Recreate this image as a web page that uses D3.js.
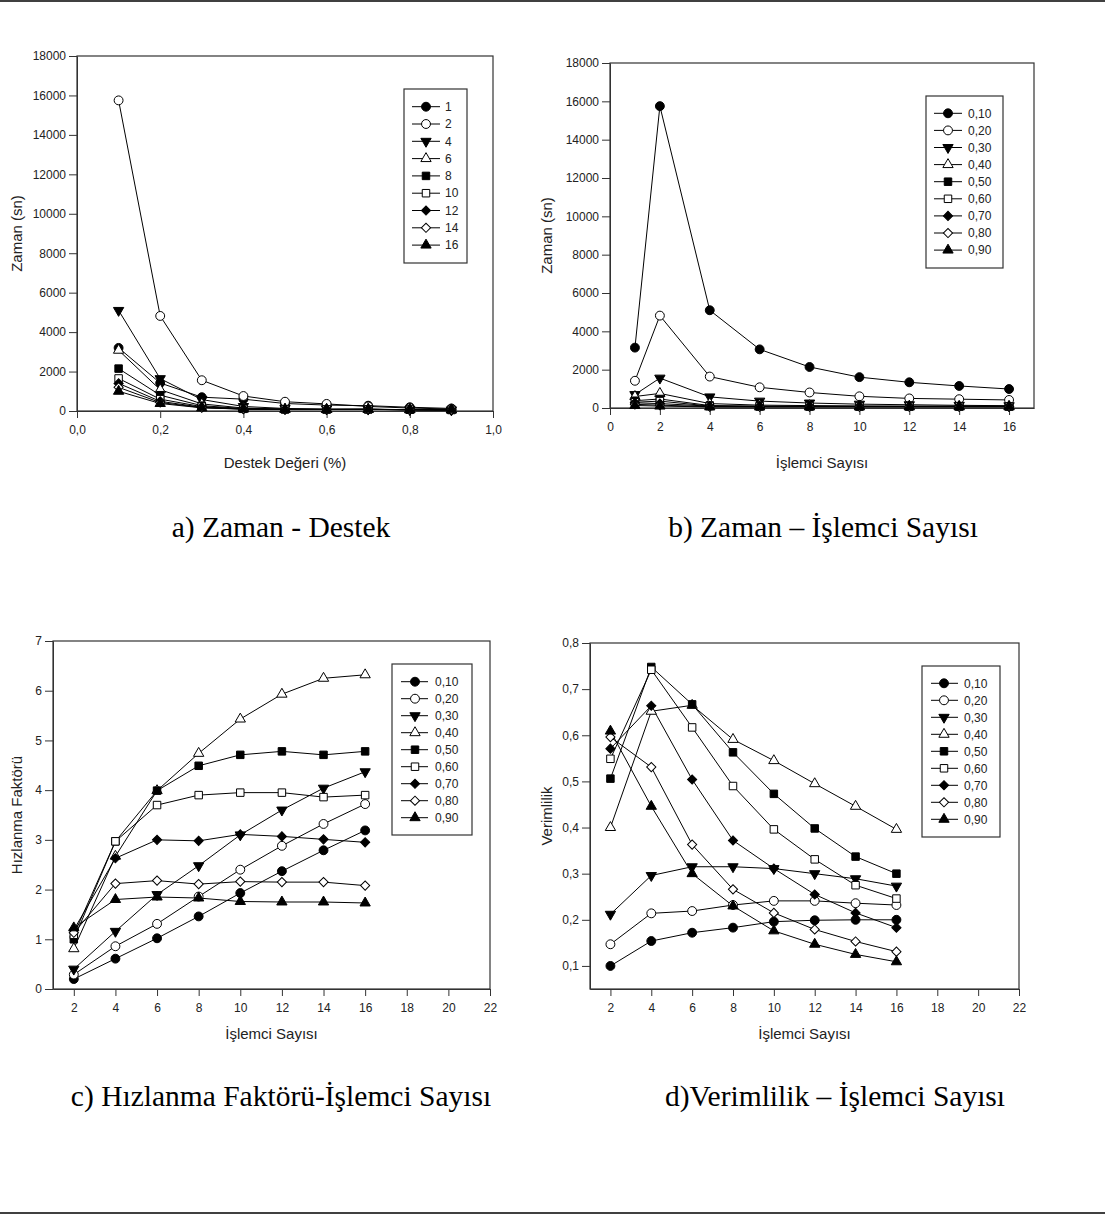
<!DOCTYPE html>
<html>
<head>
<meta charset="utf-8">
<script src="https://cdn.jsdelivr.net/npm/d3@7"></script>
<style>
  body { margin: 0; background: #fff; }
  svg { display: block; }
  text { font-family: "Liberation Sans", Arial, sans-serif; fill: #222; }
  .cap { font-family: "Liberation Serif", "Times New Roman", serif; fill: #000; }
</style>
</head>
<body>
<div id="fig"></div>
<script>
// x values
var destek = [0.1, 0.2, 0.3, 0.4, 0.5, 0.6, 0.7, 0.8, 0.9];
var islemci = [1, 2, 4, 6, 8, 10, 12, 14, 16];
var islemci2 = [2, 4, 6, 8, 10, 12, 14, 16];

// legend labels
var islemciAdlari = ["1", "2", "4", "6", "8", "10", "12", "14", "16"];
var destekAdlari = ["0,10", "0,20", "0,30", "0,40", "0,50", "0,60", "0,70", "0,80", "0,90"];

// a) Zaman - Destek : one row per processor count, values at destek[]
var zamanDestek = [
  [3200, 1420, 700, 600, 380, 300, 270, 190, 130],
  [15750, 4820, 1560, 760, 470, 360, 230, 150, 100],
  [5100, 1640, 580, 230, 128, 100, 95, 66, 56],
  [3080, 1080, 360, 150, 95, 80, 83, 64, 54],
  [2150, 800, 270, 125, 85, 77, 84, 66, 55],
  [1650, 600, 220, 110, 80, 76, 80, 65, 57],
  [1400, 490, 190, 100, 80, 76, 81, 65, 57],
  [1200, 430, 170, 95, 80, 78, 83, 65, 57],
  [1000, 380, 160, 95, 80, 77, 85, 67, 58]
];

// b) Zaman - Islemci : one row per support value, values at islemci[]
var zamanIslemci = [
  [3150, 15750, 5100, 3060, 2140, 1610, 1340, 1150, 990],
  [1420, 4820, 1640, 1080, 810, 610, 500, 460, 420],
  [700, 1560, 580, 360, 260, 200, 170, 140, 120],
  [600, 760, 230, 150, 125, 110, 100, 95, 95],
  [380, 470, 128, 95, 85, 80, 80, 80, 80],
  [300, 360, 100, 80, 77, 76, 76, 78, 77],
  [270, 230, 95, 83, 84, 80, 81, 83, 85],
  [190, 150, 66, 64, 66, 65, 65, 65, 67],
  [130, 100, 56, 54, 55, 57, 57, 57, 58]
];

// c) Hizlanma faktoru : one row per support value, values at islemci2[]
var hizlanma = [
  [0.20, 0.61, 1.02, 1.46, 1.93, 2.37, 2.79, 3.19],
  [0.29, 0.86, 1.31, 1.86, 2.40, 2.88, 3.32, 3.72],
  [0.40, 1.16, 1.90, 2.48, 3.10, 3.60, 4.04, 4.37],
  [0.81, 2.67, 3.99, 4.74, 5.43, 5.93, 6.25, 6.32],
  [1.00, 2.97, 3.99, 4.49, 4.71, 4.78, 4.71, 4.78],
  [1.09, 2.97, 3.70, 3.90, 3.95, 3.95, 3.86, 3.90],
  [1.19, 2.63, 3.00, 2.98, 3.11, 3.07, 3.01, 2.95],
  [1.13, 2.12, 2.18, 2.11, 2.16, 2.15, 2.15, 2.08],
  [1.23, 1.80, 1.85, 1.83, 1.76, 1.75, 1.75, 1.73]
];

// d) Verimlilik : one row per support value, values at islemci2[]
var verim = [
  [0.100, 0.154, 0.172, 0.183, 0.196, 0.199, 0.200, 0.200],
  [0.147, 0.214, 0.219, 0.232, 0.241, 0.241, 0.236, 0.232],
  [0.212, 0.296, 0.315, 0.315, 0.311, 0.300, 0.289, 0.273],
  [0.400, 0.652, 0.665, 0.591, 0.545, 0.495, 0.446, 0.396],
  [0.506, 0.748, 0.667, 0.563, 0.473, 0.398, 0.337, 0.300],
  [0.549, 0.742, 0.617, 0.490, 0.396, 0.331, 0.275, 0.246],
  [0.571, 0.664, 0.504, 0.372, 0.311, 0.255, 0.215, 0.183],
  [0.596, 0.531, 0.363, 0.266, 0.215, 0.179, 0.153, 0.131],
  [0.609, 0.446, 0.300, 0.230, 0.176, 0.147, 0.125, 0.109]
];

var W = 1105, H = 1223;
var svg = d3.select("#fig").append("svg")
  .attr("width", W)
  .attr("height", H);

var tr = d3.formatLocale({decimal: ",", thousands: ".", grouping: [3], currency: ["", ""]});
var fmt1 = tr.format(".1f");
var fmtInt = d3.format("d");

// marker styles for series 1..9
var markers = [
  {type: d3.symbolCircle, size: 62, fill: "#000", rot: 0},
  {type: d3.symbolCircle, size: 62, fill: "#fff", rot: 0},
  {type: d3.symbolTriangle, size: 46, fill: "#000", rot: 180},
  {type: d3.symbolTriangle, size: 46, fill: "#fff", rot: 0},
  {type: d3.symbolSquare, size: 56, fill: "#000", rot: 0},
  {type: d3.symbolSquare, size: 56, fill: "#fff", rot: 0},
  {type: d3.symbolSquare, size: 42, fill: "#000", rot: 45},
  {type: d3.symbolSquare, size: 42, fill: "#fff", rot: 45},
  {type: d3.symbolTriangle, size: 46, fill: "#000", rot: 0}
];

function drawMarker(sel, i) {
  var m = markers[i];
  sel.append("path")
    .attr("d", d3.symbol().type(m.type).size(m.size)())
    .attr("transform", function(d) { return "translate(" + d[0] + "," + d[1] + ") rotate(" + m.rot + ")"; })
    .attr("fill", m.fill)
    .attr("stroke", "#000")
    .attr("stroke-width", 1);
}

function panel(cfg) {
  var g = svg.append("g");
  var x = d3.scaleLinear().domain(cfg.xDomain).range([cfg.left, cfg.right]);
  var y = d3.scaleLinear().domain(cfg.yDomain).range([cfg.bottom, cfg.top]);

  // axes
  var xa = g.append("g")
    .attr("transform", "translate(0," + cfg.bottom + ")")
    .call(d3.axisBottom(x).tickValues(cfg.xTicks).tickFormat(cfg.xFmt)
      .tickSize(7).tickSizeOuter(0).tickPadding(7));
  var ya = g.append("g")
    .attr("transform", "translate(" + cfg.left + ",0)")
    .call(d3.axisLeft(y).tickValues(cfg.yTicks).tickFormat(cfg.yFmt)
      .tickSize(8).tickSizeOuter(0).tickPadding(3));
  [xa, ya].forEach(function(a) {
    a.selectAll("text").style("font-size", "12px").attr("fill", "#222");
    a.selectAll("line, path").attr("stroke", "#333");
  });

  // frame
  g.append("rect")
    .attr("x", cfg.left).attr("y", cfg.top)
    .attr("width", cfg.right - cfg.left).attr("height", cfg.bottom - cfg.top)
    .attr("fill", "none").attr("stroke", "#333").attr("stroke-width", 1.2);

  // series
  var line = d3.line().x(function(d) { return d[0]; }).y(function(d) { return d[1]; });
  cfg.series.forEach(function(vals, i) {
    var pts = vals.map(function(v, j) { return [x(cfg.xs[j]), y(v)]; });
    g.append("path").attr("d", line(pts))
      .attr("fill", "none").attr("stroke", "#000").attr("stroke-width", 1);
  });
  cfg.series.forEach(function(vals, i) {
    var pts = vals.map(function(v, j) { return [x(cfg.xs[j]), y(v)]; });
    var s = g.append("g").selectAll("g").data(pts).enter().append("g");
    drawMarker(s, i);
  });

  // axis titles
  g.append("text")
    .attr("x", (cfg.left + cfg.right) / 2).attr("y", cfg.xTitleY)
    .attr("text-anchor", "middle").style("font-size", "15px")
    .text(cfg.xTitle);
  g.append("text")
    .attr("transform", "translate(" + cfg.yTitleX + "," + (cfg.top + cfg.bottom) / 2 + ") rotate(-90)")
    .attr("text-anchor", "middle").attr("dy", "0.35em").style("font-size", "15px")
    .text(cfg.yTitle);

  // legend
  var L = cfg.legend;
  g.append("rect")
    .attr("x", L.x0).attr("y", L.y0)
    .attr("width", L.x1 - L.x0).attr("height", L.y1 - L.y0)
    .attr("fill", "#fff").attr("stroke", "#333").attr("stroke-width", 1.2);
  cfg.names.forEach(function(name, i) {
    var ly = L.first + i * L.step;
    g.append("line")
      .attr("x1", L.lx0).attr("x2", L.lx1).attr("y1", ly).attr("y2", ly)
      .attr("stroke", "#000").attr("stroke-width", 1);
    var mg = g.append("g").selectAll("g").data([[L.mx, ly]]).enter().append("g");
    drawMarker(mg, i);
    g.append("text")
      .attr("x", L.tx).attr("y", ly).attr("dy", "0.35em")
      .style("font-size", "12px")
      .text(name);
  });
}

panel({
  left: 77, right: 493, top: 56, bottom: 411,
  xDomain: [0, 1], yDomain: [0, 18000],
  xTicks: [0, 0.2, 0.4, 0.6, 0.8, 1.0], xFmt: fmt1,
  yTicks: d3.range(0, 18001, 2000), yFmt: fmtInt,
  xs: destek, series: zamanDestek, names: islemciAdlari,
  xTitle: "Destek Değeri (%)", xTitleY: 468,
  yTitle: "Zaman (sn)", yTitleX: 17,
  legend: {x0: 404, y0: 89, x1: 467, y1: 263, first: 106.7, step: 17.3, lx0: 412, lx1: 440, mx: 426, tx: 445}
});

panel({
  left: 610, right: 1034, top: 63, bottom: 408,
  xDomain: [0, 17], yDomain: [0, 18000],
  xTicks: d3.range(0, 17, 2), xFmt: fmtInt,
  yTicks: d3.range(0, 18001, 2000), yFmt: fmtInt,
  xs: islemci, series: zamanIslemci, names: destekAdlari,
  xTitle: "İşlemci Sayısı", xTitleY: 468,
  yTitle: "Zaman (sn)", yTitleX: 547,
  legend: {x0: 926, y0: 96, x1: 1003, y1: 268, first: 113.3, step: 17.1, lx0: 934, lx1: 962, mx: 948, tx: 968}
});

panel({
  left: 53, right: 490, top: 641, bottom: 989,
  xDomain: [1, 22], yDomain: [0, 7],
  xTicks: d3.range(2, 23, 2), xFmt: fmtInt,
  yTicks: d3.range(0, 8, 1), yFmt: fmtInt,
  xs: islemci2, series: hizlanma, names: destekAdlari,
  xTitle: "İşlemci Sayısı", xTitleY: 1039,
  yTitle: "Hızlanma Faktörü", yTitleX: 17,
  legend: {x0: 392, y0: 664, x1: 472, y1: 835, first: 681.7, step: 17, lx0: 401, lx1: 428, mx: 415, tx: 435}
});

panel({
  left: 590, right: 1019, top: 643, bottom: 989,
  xDomain: [1, 22], yDomain: [0.05, 0.8],
  xTicks: d3.range(2, 23, 2), xFmt: fmtInt,
  yTicks: [0.1, 0.2, 0.3, 0.4, 0.5, 0.6, 0.7, 0.8], yFmt: fmt1,
  xs: islemci2, series: verim, names: destekAdlari,
  xTitle: "İşlemci Sayısı", xTitleY: 1039,
  yTitle: "Verimlilik", yTitleX: 547,
  legend: {x0: 922, y0: 666, x1: 1000, y1: 837, first: 683.3, step: 17, lx0: 931, lx1: 958, mx: 944, tx: 964}
});

// captions
var captions = [
  {t: "a) Zaman - Destek", x: 281, y: 537},
  {t: "b) Zaman – İşlemci Sayısı", x: 823, y: 537},
  {t: "c) Hızlanma Faktörü-İşlemci Sayısı", x: 281, y: 1106},
  {t: "d)Verimlilik – İşlemci Sayısı", x: 835, y: 1106}
];
svg.selectAll("text.cap").data(captions).enter().append("text")
  .attr("class", "cap")
  .attr("x", function(d) { return d.x; })
  .attr("y", function(d) { return d.y; })
  .attr("text-anchor", "middle")
  .style("font-size", "29.5px")
  .text(function(d) { return d.t; });

// page rules
svg.append("line").attr("x1", 0).attr("x2", W).attr("y1", 1).attr("y2", 1)
  .attr("stroke", "#000").attr("stroke-width", 1.5);
svg.append("line").attr("x1", 0).attr("x2", W).attr("y1", 1213).attr("y2", 1213)
  .attr("stroke", "#000").attr("stroke-width", 1.5);
</script>
</body>
</html>
